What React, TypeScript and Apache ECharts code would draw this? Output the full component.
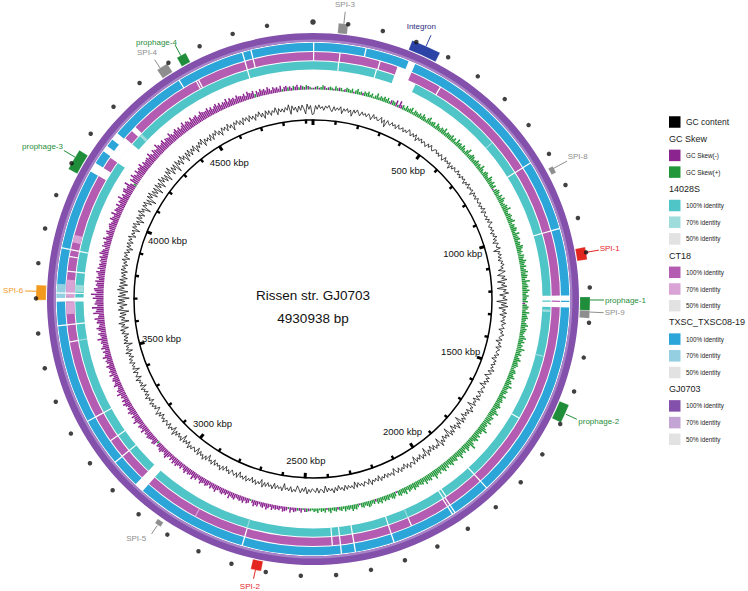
import React, { useEffect, useRef } from "react";
import * as echarts from "echarts";

// ---------------- data ----------------
const GENOME_LENGTH = 4930938;
const GENOME_NAME = "Rissen str. GJ0703";
const GENOME_SIZE_TEXT = "4930938 bp";
const TICK_STEP_BP = 100000;
const LABEL_STEP_BP = 500000;
const axisLabelTexts = ["500 kbp", "1000 kbp", "1500 kbp", "2000 kbp", "2500 kbp", "3000 kbp", "3500 kbp", "4000 kbp", "4500 kbp"];

// GC content deviation per 0.5-degree window (positive = outward)
const gcContent = [
  -9,2,-3,3,-2,1,-4,2,-1,3,-2,-5,2,-3,1,-2,3,-6,1,-2,
  2,-3,1,-7,2,-2,3,-1,-4,2,-2,1,-3,2,-1,-5,3,-2,1,-3,
  -2,3,-4,1,-8,2,-1,-3,2,-2,1,-4,3,-2,-1,2,-3,1,-2,4,
  1,-3,2,-2,3,-5,1,-2,2,-3,1,-1,-4,2,-2,3,-1,-3,1,2,
  -2,1,-3,2,-1,-4,3,-2,1,-2,2,-6,1,-3,2,-1,-2,3,-2,1,
  -3,2,-1,2,-4,1,-2,3,-3,1,-1,2,-5,2,-2,1,-3,2,-1,-2,
  2,-3,1,-2,3,-4,2,-1,-2,1,-3,2,-2,4,-1,-3,1,-2,2,-4,
  1,-2,3,-3,1,-5,2,-1,-2,3,-7,1,-2,2,-3,1,-4,2,-1,3,
  -2,1,-6,3,-2,-8,2,-3,4,-9,1,-4,3,-10,2,-2,5,-7,1,-3,
  3,-11,2,-5,4,-8,1,-3,3,-6,2,-2,1,-4,3,-2,-1,2,-5,1,
  -2,3,-1,-3,2,-6,1,-2,3,-4,2,-1,-2,3,-3,1,-5,2,-1,2,
  -3,1,-2,4,-4,2,-1,-6,2,-2,3,-3,1,-7,2,-1,-2,3,-4,1,
  2,-3,4,-5,1,-2,3,-8,2,-1,5,-4,2,-3,1,-6,3,-2,4,-9,
  2,-3,5,-4,1,-7,3,-2,4,-10,2,-3,1,-5,3,-2,6,-8,2,-1,
  3,-4,2,-6,1,-3,4,-9,2,-2,3,-5,1,-3,2,-7,3,-1,-2,4,
  -3,2,-5,1,-2,3,-4,2,-1,-6,3,-2,1,-3,2,-4,1,-2,3,-5,
  2,-3,1,-2,4,-5,2,-1,-3,3,-2,1,-4,2,-6,3,-2,1,-3,2,
  -4,3,-2,1,-5,2,-3,4,-2,1,-3,2,-6,3,-1,-2,3,-4,2,-1,
  -3,2,-2,4,-5,1,-3,3,-2,-6,2,-1,3,-4,2,-2,1,-7,3,-2,
  1,-3,2,-5,3,-2,1,-4,2,-3,4,-6,1,-2,3,-3,2,-5,1,-2,
  3,-4,2,-2,1,-6,3,-3,2,-1,-4,3,-2,1,-5,2,-3,4,-2,1,
  -3,2,-5,3,-2,1,-7,2,-3,4,-2,1,-4,3,-6,2,-1,-3,2,-2,
  4,-5,1,-3,2,-8,3,-2,1,-4,2,-3,5,-6,1,-2,3,-4,2,-1,
  -3,3,-2,1,-5,2,-3,4,-2,-6,1,-3,2,-2,3,-5,1,-2,4,-3,
  2,-4,1,-2,3,-6,2,-3,1,-2,4,-5,2,-1,-3,3,-7,2,-2,1,
  -4,3,-2,2,-5,1,-3,4,-6,2,-2,1,-8,3,-3,2,-4,1,-6,3,
  -2,4,-7,2,-3,5,-9,1,-4,3,-6,2,-10,4,-3,2,-8,5,-5,3,
  -11,4,-6,2,-9,5,-4,3,-8,2,-5,3,-7,1,-4,2,-6,3,-3,2,
  -5,1,-3,4,-6,2,-2,3,-4,1,-7,2,-3,3,-5,2,-2,4,-6,1,
  -3,2,-8,3,-2,4,-5,1,-9,3,-4,2,-6,5,-3,2,-10,3,-2,4,
  -7,2,-11,4,-3,5,-8,2,-6,3,-11,4,-5,2,-9,5,-4,3,-7,2,
  -10,4,-3,6,-8,2,-5,3,-11,4,-4,2,-7,5,-3,2,-9,3,-5,4,
  -6,2,-3,4,-8,1,-4,3,-2,5,-7,2,-3,1,-5,3,-6,2,-2,4,
  -4,1,-7,3,-2,2,-5,4,-3,1,-8,2,-2,3,-4,1,-6,3,-2,2,
  -5,3,-3,1,-6,2,-2,4,-4,1,-7,3,-3,2,-5,1,-2,4,-6,2,
  -3,1,-4,2,-2,5,-8,3,-3,1,-6,2,-4,3,-2,-9,4,-3,2,-10,
];

// GC skew per 0.5-degree window (positive = GC Skew(+), negative = GC Skew(-))
const gcSkew = [
  2,-3,4,-2,3,5,-4,2,-3,4,3,-2,5,3,-4,4,2,-3,5,4,
  3,5,-2,4,6,3,4,-3,5,4,6,3,5,2,4,7,3,5,4,6,
  4,6,3,-5,5,4,-7,3,-8,-4,5,3,6,4,5,7,3,6,5,4,
  6,4,7,5,3,6,8,4,5,6,3,7,5,4,6,5,8,4,6,5,
  5,7,4,6,3,8,5,6,4,7,5,3,6,9,4,5,7,6,4,5,
  7,5,6,4,8,5,3,6,7,5,4,8,6,5,7,4,6,-2,5,7,
  6,4,7,5,8,6,4,5,7,6,9,5,4,6,7,5,6,8,4,6,
  5,7,6,4,8,5,6,7,4,6,5,8,7,5,6,4,7,6,5,8,
  6,5,7,4,6,8,5,7,6,4,9,5,6,7,5,8,6,4,7,5,
  4,6,-3,5,7,6,4,8,5,6,7,5,4,6,8,5,7,6,5,4,
  6,8,5,7,4,6,5,9,6,5,7,4,6,8,5,6,7,5,4,6,
  7,5,6,8,4,6,7,5,9,6,5,7,6,4,8,5,6,7,5,6,
  8,6,5,7,10,6,5,8,7,6,9,5,7,6,8,11,6,7,5,8,
  6,9,7,5,8,12,6,7,9,5,8,6,7,10,6,5,8,7,6,9,
  7,5,8,6,9,7,5,8,6,7,10,6,5,8,7,6,9,5,7,6,
  5,7,6,8,5,6,7,4,8,6,5,7,6,-2,5,7,6,4,6,5,
  6,4,7,5,6,-3,5,4,6,7,5,4,6,5,-2,4,6,5,7,4,
  5,4,6,3,5,4,-3,5,4,3,6,4,-2,5,3,4,2,5,3,4,
  2,3,-3,4,-4,2,-5,-3,3,-4,-5,-3,-6,2,-4,-5,-6,-3,-5,-4,
  -5,-4,-6,-3,-5,-7,-4,-6,-5,-3,-6,-5,-7,-4,2,-5,-6,-4,-7,-5,
  -6,-5,-4,-7,-6,-5,-8,-4,-6,-5,-7,-6,-4,-5,-8,-6,-5,-7,-4,-6,
  -7,-5,-6,-8,-5,-4,-7,-6,-9,-5,-6,-7,-5,-8,-6,-4,-7,-5,-6,-8,
  -6,-8,-5,-7,-4,-6,-9,-7,-5,-6,-8,-7,-5,-6,3,-7,-8,-5,-6,-7,
  -8,-6,-7,-5,-9,-6,-7,-8,-5,-6,-10,-7,-6,-8,-5,-7,-9,-6,-7,-5,
  -7,-9,-6,-8,-5,-7,-6,-10,-7,-8,-6,-5,-9,-7,-6,-8,-7,-5,-9,-6,
  -8,-6,-7,-9,-5,-7,-8,-6,-10,-7,-6,-8,-5,-9,-7,-6,-8,-7,-11,-6,
  -7,-9,-6,-8,-10,-7,-6,-9,-8,-11,-7,-6,-12,-9,-8,-13,-7,-10,-9,-8,
  -12,-9,-14,-8,-10,-11,-7,-9,-8,-10,-6,-9,-7,-8,-10,-6,-9,-7,-8,-6,
  -8,-7,-9,-6,-10,-8,-7,-5,-9,-7,-8,-6,-10,-7,-5,-8,-9,-6,-7,-8,
  -9,-7,-6,-10,-8,-7,-11,-6,-9,-8,-7,-10,-6,-9,-8,-12,-7,-9,-6,-10,
  -11,-8,-9,-13,-7,4,-10,-8,-12,-9,-7,-11,-8,-10,-9,-12,-7,-10,-8,-9,
  -10,-8,-12,-9,-7,-11,-9,-8,-13,-10,-8,-9,-11,-7,-10,-9,-8,-12,-9,-7,
  -9,-11,-8,-10,-7,-9,-12,-8,-10,-9,-7,-11,-8,-9,-10,-7,-8,-11,-9,-8,
  -8,-10,-7,-9,-6,-8,-10,-7,-9,-6,-8,-7,-10,-6,-9,-7,-8,-6,-9,-7,
  -7,-6,-8,-5,-9,-7,-6,-8,4,-7,-5,-8,-6,-7,-5,-8,-6,-4,-7,-5,
  -6,-4,-7,3,-5,-6,4,-5,-3,5,-4,-6,3,-5,4,-3,5,-4,3,-2,
];

const skewLabels = ["GC Skew(-)", "GC Skew(+)"];
const ringNames = ["14028S", "CT18", "TXSC_TXSC08-19", "GJ0703"];
const identityLabels = ["100% identity", "70% identity", "50% identity"];

// BLAST hit breaks vs GJ0703 : [start bp, end bp, identity] ; identity 0 = no hit
const hits14028S = [
  [83000, 87000, 0], [210000, 214000, 0], [274000, 350000, 0], [668000, 672000, 70],
  [792000, 796000, 0], [1012000, 1016000, 0], [1222000, 1238000, 0], [1242000, 1259000, 0], [1268000, 1276000, 70],
  [1422000, 1426000, 70], [1642000, 1646000, 0], [1880000, 1884000, 0], [1998000, 2002000, 0],
  [2009000, 2013000, 0], [2142000, 2146000, 70], [2211000, 2215000, 0], [2333000, 2337000, 0],
  [2376000, 2380000, 0], [2402000, 2406000, 0], [2683000, 2687000, 70], [3035000, 3065000, 0],
  [3155000, 3159000, 0], [3217000, 3221000, 0], [3306000, 3310000, 0], [3559000, 3563000, 70],
  [3614000, 3618000, 0], [3690000, 3703000, 0], [3715000, 3719000, 0], [3722000, 3745000, 70], [3785000, 3789000, 0],
  [3854000, 3858000, 0], [4176000, 4254000, 0], [4290000, 4300000, 70], [4710000, 4714000, 0],
];
const hitsCT18 = [
  [0, 4000, 0], [84000, 88000, 0], [214000, 218000, 0], [274000, 322000, 0], [423000, 427000, 0],
  [792000, 796000, 0], [1012000, 1016000, 0], [1222000, 1238000, 0], [1242000, 1259000, 0], [1880000, 1884000, 0],
  [2003000, 2007000, 0], [2012000, 2016000, 0], [2142000, 2146000, 0], [2211000, 2215000, 0],
  [2333000, 2337000, 0], [2376000, 2380000, 0], [2402000, 2406000, 0], [2683000, 2687000, 0],
  [2853000, 2857000, 70], [3035000, 3065000, 0], [3155000, 3159000, 0], [3217000, 3221000, 0],
  [3306000, 3310000, 0], [3559000, 3563000, 0], [3614000, 3618000, 0], [3650000, 3688000, 70], [3690000, 3703000, 0],
  [3705000, 3760000, 70], [3715000, 3719000, 0], [3785000, 3789000, 0], [3832000, 3836000, 0], [3854000, 3858000, 0],
  [3880000, 3905000, 70], [4107000, 4137000, 0], [4176000, 4254000, 0], [4285000, 4302000, 0],
  [4543000, 4547000, 0], [4551000, 4555000, 0], [4710000, 4714000, 0], [4737000, 4741000, 0],
];
const hitsTXSC = [
  [0, 4000, 0], [162000, 166000, 0], [300000, 322000, 0], [792000, 796000, 0], [1012000, 1016000, 0],
  [1222000, 1238000, 0], [1242000, 1259000, 0], [1880000, 1884000, 0], [2003000, 2007000, 0], [2012000, 2016000, 0],
  [2211000, 2215000, 0], [2333000, 2337000, 0], [2376000, 2380000, 0], [2683000, 2687000, 0],
  [3035000, 3065000, 0], [3155000, 3159000, 0], [3306000, 3310000, 0], [3614000, 3618000, 0],
  [3690000, 3703000, 0], [3703000, 3745000, 70], [3715000, 3719000, 0], [3854000, 3858000, 0], [4107000, 4137000, 0],
  [4180000, 4200000, 0], [4225000, 4250000, 0], [4498000, 4502000, 0], [4710000, 4714000, 0],
  [4737000, 4741000, 0],
];
const hitsGJ0703: number[][] = [];

// Annotated regions
const featureNames = ["SPI-3", "Integron", "SPI-8", "SPI-1", "prophage-1", "SPI-9", "prophage-2", "SPI-2", "SPI-5", "SPI-6", "prophage-3", "SPI-4", "prophage-4"];
const featureStart = [72600, 287600, 835500, 1084800, 1227200, 1265600, 1541000, 2613400, 2928400, 3695000, 4081700, 4462000, 4528000];
const featureEnd = [100000, 373900, 856000, 1120400, 1265600, 1287500, 1595700, 2643500, 2947600, 3738000, 4143300, 4496000, 4556000];

// ---------------- layout & style ----------------
const FONT = '"Liberation Sans", Arial, Helvetica, sans-serif';
const CENTER = [313, 299];
const LAYOUT = {
  axisR: 179,
  tickMinor: 3.5,
  tickMajor: 5,
  labelR: 162,
  labelSideInset: 6,
  gcBase: 192,
  gcScale: 0.75,
  skewBase: 209.5,
  skewScale: 0.9,
  skewBarFrac: 0.8,
  rings: [[229.5, 237.8], [238.8, 247], [248, 256.3], [257.3, 266]],
  dotR: 277,
  featIn: 267,
  featOut: 277,
};
const SKEW_POS = "#22983b";
const SKEW_NEG = "#8c2490";
const RING_STYLE = [
  { c100: "#4fc5c8", c70: "#9fdcdc", c50: "#e2e2e2" },
  { c100: "#b35cb1", c70: "#d9a3d5", c50: "#e2e2e2" },
  { c100: "#2ca6d8", c70: "#93cee1", c50: "#e2e2e2" },
  { c100: "#8350ab", c70: "#c3a4d4", c50: "#e2e2e2" },
];
const FEATURE_STYLE: Record<string, { fill: string; text: string }> = {
  "SPI-1": { fill: "#e3261f", text: "#e3261f" },
  "SPI-2": { fill: "#e3261f", text: "#e3261f" },
  "SPI-6": { fill: "#f39a1e", text: "#f39a1e" },
  Integron: { fill: "#2b43a6", text: "#2c2c7c" },
};
const SPI_STYLE = { fill: "#8e8e8e", text: "#8e8e8e" };
const PROPHAGE_STYLE = { fill: "#1f8d3a", text: "#1f8d3a" };
// label placement per feature: line angle (deg), line radii, text angle (deg), text radius, alignment
const FEATURE_LABEL = [
  { la: 6.4, l0: 277, l1: 289, ta: 6.2, tr: 296, align: "center" },
  { la: 24.1, l0: 277, l1: 289, ta: 21.7, tr: 293, align: "center" },
  { la: 61.5, l0: 273, l1: 289, ta: 60.7, tr: 292, align: "left" },
  { la: 80.3, l0: 277, l1: 290, ta: 80.1, tr: 291, align: "left" },
  { la: 90.2, l0: 277, l1: 291, ta: 90.2, tr: 292, align: "left" },
  { la: 92.7, l0: 277, l1: 291, ta: 92.7, tr: 292, align: "left" },
  { la: 114.5, l0: 278, l1: 290, ta: 114.7, tr: 292, align: "left" },
  { la: 192, l0: 277, l1: 286, ta: 192.4, tr: 294, align: "center" },
  { la: 214.5, l0: 275, l1: 285, ta: 214.9, tr: 291.6, align: "right" },
  { la: 271.6, l0: 277, l1: 288, ta: 271.6, tr: 290, align: "right" },
  { la: 300.8, l0: 277, l1: 290, ta: 301.3, tr: 292.6, align: "right" },
  { la: 326.5, l0: 277, l1: 287, ta: 327.7, tr: 292, align: "right" },
  { la: 331.5, l0: 277, l1: 289, ta: 332.1, tr: 290.8, align: "right" },
];
const LEGEND = { x: 669, top: 122, step: 16.7, box: 11.5, textX: 686, headerFont: 9, itemFont: 6.3, gcFont: 8.5 };

// ---------------- helpers ----------------
const degToBp = (d: number) => (d / 360) * GENOME_LENGTH;

function sectorShape(api: any, cx: number, cy: number, r0: number, r1: number, a0: number, a1: number) {
  const p0 = api.coord([r1, a0]);
  const p1 = api.coord([r1, a1]);
  const q0 = api.coord([r0, a0]);
  const sa = Math.atan2(p0[1] - cy, p0[0] - cx);
  let ea = Math.atan2(p1[1] - cy, p1[0] - cx);
  while (ea <= sa + 1e-9) ea += Math.PI * 2;
  return {
    cx, cy,
    r0: Math.hypot(q0[0] - cx, q0[1] - cy),
    r: Math.hypot(p0[0] - cx, p0[1] - cy),
    startAngle: sa, endAngle: ea, clockwise: true,
  };
}

function textStyle(text: string, font: string, fill: string, align: string, valign: string) {
  return { text, font, fill, align, verticalAlign: valign, textAlign: align, textVerticalAlign: valign };
}

function featureStyle(name: string) {
  if (FEATURE_STYLE[name]) return FEATURE_STYLE[name];
  return name.startsWith("prophage") ? PROPHAGE_STYLE : SPI_STYLE;
}

function buildOption() {
  const allHits = [hits14028S, hitsCT18, hitsTXSC, hitsGJ0703];
  const ringData: number[][] = [];
  allHits.forEach((hits, k) => {
    ringData.push([LAYOUT.rings[k][1], 0, GENOME_LENGTH, k, 100]);
    hits.forEach((h) => ringData.push([LAYOUT.rings[k][1], h[0], h[1], k, h[2]]));
  });

  const skewBin = GENOME_LENGTH / gcSkew.length;
  const skewData = gcSkew.map((v, i) => [LAYOUT.skewBase, i * skewBin, (i + LAYOUT.skewBarFrac) * skewBin, v]);

  const cBin = GENOME_LENGTH / gcContent.length;
  const contentData = gcContent.map((v, i) => [LAYOUT.gcBase + v * LAYOUT.gcScale, (i + 0.5) * cBin]);
  const wrapVal = LAYOUT.gcBase + ((gcContent[0] + gcContent[gcContent.length - 1]) / 2) * LAYOUT.gcScale;
  contentData.unshift([wrapVal, 0]);
  contentData.push([wrapVal, GENOME_LENGTH]);

  const tickData: number[][] = [];
  for (let bp = 0; bp < GENOME_LENGTH; bp += TICK_STEP_BP) tickData.push([LAYOUT.axisR, bp]);
  const labelData = axisLabelTexts.map((_, i) => {
    const bp = (i + 1) * LABEL_STEP_BP;
    const s = Math.sin((bp / GENOME_LENGTH) * Math.PI * 2);
    return [LAYOUT.labelR - LAYOUT.labelSideInset * s * s, bp];
  });
  const dotData: any[] = [];
  for (let bp = 0; bp < GENOME_LENGTH - TICK_STEP_BP / 2; bp += TICK_STEP_BP) {
    dotData.push({ value: [LAYOUT.dotR, bp], symbolSize: bp === 0 ? 5.5 : 4.5 });
  }

  const featureData = featureNames.map((_, i) => [LAYOUT.featOut, featureStart[i], featureEnd[i]]);

  const rows: any[] = [];
  rows.push({ color: "#000000", text: "GC content", font: LEGEND.gcFont });
  rows.push({ header: "GC Skew" });
  rows.push({ color: SKEW_NEG, text: skewLabels[0], font: LEGEND.itemFont });
  rows.push({ color: SKEW_POS, text: skewLabels[1], font: LEGEND.itemFont });
  ringNames.forEach((name, k) => {
    rows.push({ header: name });
    ["c100", "c70", "c50"].forEach((key, j) =>
      rows.push({ color: (RING_STYLE[k] as any)[key], text: identityLabels[j], font: LEGEND.itemFont })
    );
  });
  const legendEls: any[] = [];
  rows.forEach((row, i) => {
    const yc = LEGEND.top + i * LEGEND.step;
    if (row.header) {
      legendEls.push({
        type: "text", x: LEGEND.x, y: yc,
        style: textStyle(row.header, `${LEGEND.headerFont}px ${FONT}`, "#222", "left", "middle"),
      });
    } else {
      legendEls.push({
        type: "rect",
        shape: { x: LEGEND.x, y: yc - LEGEND.box / 2, width: LEGEND.box, height: LEGEND.box },
        style: { fill: row.color },
      });
      legendEls.push({
        type: "text", x: LEGEND.textX, y: yc,
        style: textStyle(row.text, `${row.font}px ${FONT}`, "#222", "left", "middle"),
      });
    }
  });

  return {
    animation: false,
    backgroundColor: "#ffffff",
    polar: { center: CENTER, radius: [0, 300] },
    angleAxis: {
      type: "value", min: 0, max: GENOME_LENGTH, startAngle: 90, clockwise: true, show: false,
      axisLine: { show: false }, axisTick: { show: false }, axisLabel: { show: false }, splitLine: { show: false },
    },
    radiusAxis: {
      type: "value", min: 0, max: 300, show: false,
      axisLine: { show: false }, axisTick: { show: false }, axisLabel: { show: false }, splitLine: { show: false },
    },
    graphic: legendEls,
    series: [
      {
        type: "custom", coordinateSystem: "polar", silent: true, data: ringData,
        renderItem: (params: any, api: any) => {
          const cs = params.coordSys;
          const k = api.value(3);
          const id = api.value(4);
          const s = api.value(1);
          const e = api.value(2);
          const [r0, r1] = LAYOUT.rings[k];
          const st = RING_STYLE[k];
          const fill = id === 100 ? st.c100 : id === 70 ? st.c70 : id === 50 ? st.c50 : "#ffffff";
          const pad = id === 0 ? 0.6 : 0;
          const main = { type: "sector", shape: sectorShape(api, cs.cx, cs.cy, r0 - pad, r1 + pad, s, e), style: { fill } };
          if (k === 3 && id === 100 && s === 0) {
            return {
              type: "group",
              children: [
                main,
                { type: "sector", shape: sectorShape(api, cs.cx, cs.cy, r0, r0 + 2.2, s, e), style: { fill: "#a882c6" } },
              ],
            };
          }
          return main;
        },
      },
      {
        type: "custom", coordinateSystem: "polar", silent: true, data: skewData,
        renderItem: (params: any, api: any) => {
          const cs = params.coordSys;
          const v = api.value(3);
          const base = api.value(0);
          const len = Math.max(Math.abs(v) * LAYOUT.skewScale, 0.6);
          return {
            type: "sector",
            shape: sectorShape(api, cs.cx, cs.cy, base, base + len, api.value(1), api.value(2)),
            style: { fill: v >= 0 ? SKEW_POS : SKEW_NEG },
          };
        },
      },
      {
        type: "line", coordinateSystem: "polar", silent: true, data: contentData,
        showSymbol: false, symbol: "none", smooth: false,
        lineStyle: { color: "#111111", width: 0.75 },
      },
      {
        type: "custom", coordinateSystem: "polar", silent: true, data: [[LAYOUT.axisR, 0]],
        renderItem: (params: any, api: any) => {
          const cs = params.coordSys;
          const p = api.coord([api.value(0), api.value(1)]);
          const r = Math.hypot(p[0] - cs.cx, p[1] - cs.cy);
          return { type: "circle", shape: { cx: cs.cx, cy: cs.cy, r }, style: { fill: "none", stroke: "#000", lineWidth: 1.5 } };
        },
      },
      {
        type: "custom", coordinateSystem: "polar", silent: true, data: tickData,
        renderItem: (params: any, api: any) => {
          const bp = api.value(1);
          const major = Math.round(bp) % LABEL_STEP_BP === 0;
          const len = major ? LAYOUT.tickMajor : LAYOUT.tickMinor;
          const a = api.coord([api.value(0) + 0.5, bp]);
          const b = api.coord([api.value(0) - len, bp]);
          return { type: "line", shape: { x1: a[0], y1: a[1], x2: b[0], y2: b[1] }, style: { stroke: "#000", lineWidth: major ? 3 : 2.4 } };
        },
      },
      {
        type: "custom", coordinateSystem: "polar", silent: true, data: labelData,
        renderItem: (params: any, api: any) => {
          const p = api.coord([api.value(0), api.value(1)]);
          return {
            type: "text", x: p[0], y: p[1],
            style: textStyle(axisLabelTexts[params.dataIndex], `9.5px ${FONT}`, "#111", "center", "middle"),
          };
        },
      },
      {
        type: "scatter", coordinateSystem: "polar", silent: true, data: dotData,
        symbol: "circle", itemStyle: { color: "#111111" },
      },
      {
        type: "custom", coordinateSystem: "polar", silent: true, data: featureData,
        renderItem: (params: any, api: any) => {
          const cs = params.coordSys;
          const i = params.dataIndex;
          const name = featureNames[i];
          const fs = featureStyle(name);
          const lab = FEATURE_LABEL[i];
          const small = name === "SPI-8" || name === "SPI-5";
          const rin = small ? LAYOUT.featIn + 2 : LAYOUT.featIn;
          const rout = small ? LAYOUT.featOut - 3 : LAYOUT.featOut;
          const box = sectorShape(api, cs.cx, cs.cy, rin, rout, api.value(1), api.value(2));
          const a = api.coord([lab.l0, degToBp(lab.la)]);
          const b = api.coord([lab.l1, degToBp(lab.la)]);
          const t = api.coord([lab.tr, degToBp(lab.ta)]);
          return {
            type: "group",
            children: [
              { type: "sector", shape: box, style: { fill: fs.fill, stroke: "rgba(255,255,255,0.35)", lineWidth: 0.6 } },
              { type: "line", shape: { x1: a[0], y1: a[1], x2: b[0], y2: b[1] }, style: { stroke: fs.fill, lineWidth: 1 } },
              { type: "text", x: t[0], y: t[1], style: textStyle(name, `8px ${FONT}`, fs.text, lab.align, "middle") },
            ],
          };
        },
      },
      {
        type: "custom", coordinateSystem: "polar", silent: true, data: [[0, 0]],
        renderItem: (params: any, api: any) => {
          const c = api.coord([0, 0]);
          return {
            type: "group",
            children: [
              { type: "text", x: c[0], y: c[1] - 4, style: textStyle(GENOME_NAME, `13.5px ${FONT}`, "#111", "center", "middle") },
              { type: "text", x: c[0], y: c[1] + 19, style: textStyle(GENOME_SIZE_TEXT, `13.5px ${FONT}`, "#111", "center", "middle") },
            ],
          };
        },
      },
    ],
  };
}

export default function App() {
  const ref = useRef<HTMLDivElement>(null);
  useEffect(() => {
    if (!ref.current) return;
    const chart = echarts.init(ref.current, null, { renderer: "svg" });
    chart.setOption(buildOption() as any);
    return () => chart.dispose();
  }, []);
  return (
    <div
      ref={ref}
      style={{ position: "fixed", left: 0, top: 0, width: 748, height: 591, background: "#ffffff" }}
    />
  );
}
